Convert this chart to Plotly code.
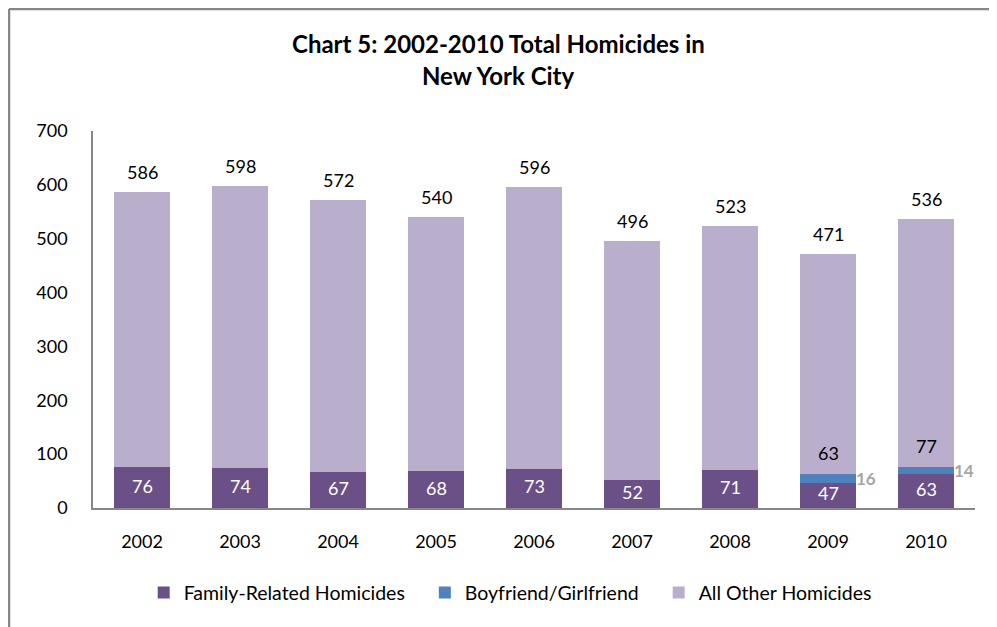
import plotly.graph_objects as go

# Données
annees = [2002, 2003, 2004, 2005, 2006, 2007, 2008, 2009, 2010]
total = [586, 598, 572, 540, 596, 496, 523, 471, 536]
famille = [76, 74, 67, 68, 73, 52, 71, 47, 63]
couple = [0, 0, 0, 0, 0, 0, 0, 16, 14]
autres = [t - f - c for t, f, c in zip(total, famille, couple)]
titre = ["Chart 5: 2002-2010 Total Homicides in", "New York City"]

police = "Lato"
violet = "#6B5087"
bleu = "#4F81BD"
lilas = "#B9AFCC"
gris = "#878787"
taille = 18
esp = "\u00a0" * 3  # espace supplémentaire entre les entrées de légende

fig = go.Figure()

fig.add_trace(go.Bar(
    x=annees, y=famille, name="Family-Related Homicides" + esp,
    marker=dict(color=violet, line=dict(width=0)), hoverinfo="skip",
))
fig.add_trace(go.Bar(
    x=annees, y=couple, name="Boyfriend/Girlfriend" + esp,
    marker=dict(color=bleu, line=dict(width=0)), hoverinfo="skip",
))
fig.add_trace(go.Bar(
    x=annees, y=autres, name="All Other Homicides",
    marker=dict(color=lilas, line=dict(width=0)), hoverinfo="skip",
))

# Valeurs familiales dans les barres
for a, f in zip(annees, famille):
    fig.add_annotation(x=a, y=f / 2, text=str(f), showarrow=False, yanchor="middle",
                       yshift=2, font=dict(size=taille, color="white", family=police))

# Totaux au-dessus des barres
for a, t in zip(annees, total):
    fig.add_annotation(x=a, y=t, text=str(t), showarrow=False, yanchor="bottom",
                       yshift=7, font=dict(size=taille, color="black", family=police))

# Étiquettes des années avec Boyfriend/Girlfriend
for a, f, c in zip(annees, famille, couple):
    if c > 0:
        fig.add_annotation(x=a, y=f + c, text=str(f + c), showarrow=False, yanchor="bottom",
                           yshift=8, font=dict(size=taille, color="black", family=police))
        fig.add_annotation(x=a, y=f + c / 2, text="<b>%d</b>" % c, showarrow=False,
                           xanchor="left", xshift=26,
                           font=dict(size=17, color="#A6A6A6", family=police))

# Titre sur deux lignes
fig.add_annotation(xref="paper", yref="paper", x=0.46, y=1.2308, text="<b>%s</b>" % titre[0],
                   showarrow=False, yanchor="middle",
                   font=dict(size=24, family=police, color="black"))
fig.add_annotation(xref="paper", yref="paper", x=0.46, y=1.1485, text="<b>%s</b>" % titre[1],
                   showarrow=False, yanchor="middle",
                   font=dict(size=24, family=police, color="black"))

# Cadre du graphique (bords gauche et haut visibles)
fig.add_shape(type="line", xref="paper", yref="paper", x0=-0.0952, x1=1.05,
              y0=1.3236, y1=1.3236, line=dict(color=gris, width=2.5))
fig.add_shape(type="line", xref="paper", yref="paper", x0=-0.0952, x1=-0.0952,
              y0=-0.35, y1=1.3236, line=dict(color=gris, width=2.5))

fig.update_layout(
    barmode="stack",
    bargap=0.43,
    width=997, height=627,
    margin=dict(l=85, r=30, t=123, b=127),
    paper_bgcolor="white", plot_bgcolor="white",
    font=dict(family=police, size=taille, color="black"),
    legend=dict(orientation="h", x=0.473, xanchor="center", y=-0.225, yanchor="middle",
                font=dict(size=19.5, family=police), traceorder="normal"),
    xaxis=dict(tickmode="array", tickvals=annees, ticktext=[str(a) for a in annees],
               range=[2001.5, 2010.5], showgrid=False, zeroline=False,
               showline=True, linecolor=gris, linewidth=1.5, ticks="",
               tickfont=dict(size=taille), ticklabelstandoff=17),
    yaxis=dict(range=[0, 700], dtick=100, showgrid=False, zeroline=False,
               showline=True, linecolor=gris, linewidth=1.5, ticks="",
               tickfont=dict(size=taille), ticklabelstandoff=20),
)

fig.write_html("out.html")
